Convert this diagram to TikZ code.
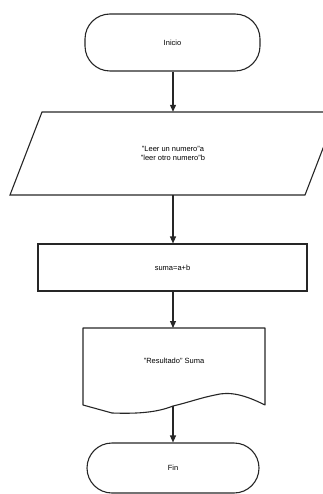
\documentclass[tikz,border=0pt]{standalone}
\usepackage{fontspec}
\setmainfont{Liberation Sans}
\usetikzlibrary{arrows.meta,shapes.misc}
\begin{document}
\begin{tikzpicture}[x=1pt,y=-1pt,
  outline/.style={draw=black!85,line width=1.1pt},
  label/.style={font=\fontsize{7.5}{9.5}\selectfont,align=center,inner sep=0pt},
  terminal/.style={outline,rectangle,rounded corners=25pt,label},
  procbox/.style={outline,rectangle,label},
  frame/.style={rectangle,inner sep=0pt,label},
  flow/.style={draw=black!85,line width=1.1pt,-{Triangle[length=7pt,width=6pt]}}]
  \useasboundingbox (0,0) rectangle (323,494);
  \clip (0,0) rectangle (323,494);

  % start terminal
  \node[terminal,minimum width=175pt,minimum height=57pt] (start) at (172.5,42.5) {Inicio};

  % input parallelogram (outline drawn separately, node carries the text)
  \node[frame,minimum width=295pt,minimum height=83pt] (read) at (173,153.5)
    {"Leer un numero"a\\"leer otro numero"b};
  \draw[outline] (10,195) -- (305,195) -- (337,112) -- (42,112) -- cycle;

  % process box
  \node[procbox,minimum width=269pt,minimum height=47pt] (proc) at (172.5,267.5) {suma=a+b};

  % output document
  \node[frame,minimum width=182pt,minimum height=20pt] (out) at (174,361) {"Resultado" Suma};
  \coordinate (outtop) at (173,328);
  \coordinate (outbot) at (173,406);
  \draw[outline,line join=round] (83,405) -- (83,328) -- (265,328) -- (265,405)
    .. controls (245,395) and (230,391) .. (215,395)
    .. controls (200,398) and (190,402) .. (outbot)
    .. controls (158,412) and (140,414) .. (112,413)
    -- cycle;

  % end terminal
  \node[terminal,minimum width=172pt,minimum height=50pt] (end) at (173,468) {Fin};

  % connectors
  \draw[flow] (start.south -| 173,0) -- (read.north -| 173,0);
  \draw[flow] (read.south -| 173,0) -- (proc.north -| 173,0);
  \draw[flow] (proc.south -| 173,0) -- (outtop);
  \draw[flow] (outbot) -- (end.north -| 173,0);
\end{tikzpicture}
\end{document}
